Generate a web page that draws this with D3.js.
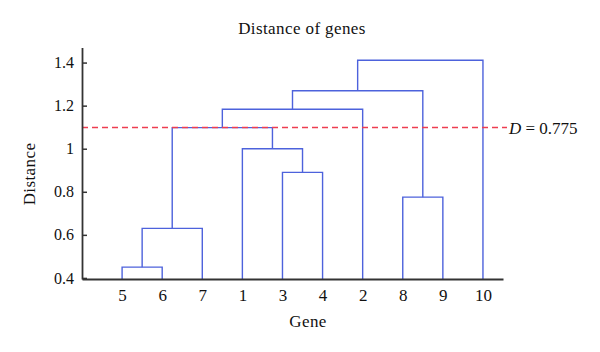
<!DOCTYPE html>
<html>
<head>
<meta charset="utf-8">
<script src="https://cdn.jsdelivr.net/npm/d3@7"></script>
<style>
  body { margin: 0; background: #fff; }
  svg text { font-family: "Liberation Serif", "DejaVu Serif", serif; fill: #111; }
</style>
</head>
<body>
<svg id="chart" width="600" height="352"></svg>
<script>
// gene ids 1..10, merged clusters numbered from 11 (linkage order)
var geneIds = [1, 2, 3, 4, 5, 6, 7, 8, 9, 10];
var mergeLeft = [5, 11, 8, 3, 1, 12, 16, 17, 18];
var mergeRight = [6, 7, 9, 4, 14, 15, 2, 13, 10];
var mergeHeight = [0.45, 0.63, 0.775, 0.89, 1.0, 1.098, 1.183, 1.269, 1.411];
var yTicks = [0.4, 0.6, 0.8, 1.0, 1.2, 1.4];
var cutValue = 1.098;
var cutLabel = '0.775';

var svg = d3.select('#chart');
var nLeaf = geneIds.length;

// build tree nodes
var nodes = {};
geneIds.forEach(function (g) { nodes[g] = { id: g, h: null, children: null }; });
mergeHeight.forEach(function (h, i) {
    nodes[nLeaf + 1 + i] = { id: nLeaf + 1 + i, h: h, children: [nodes[mergeLeft[i]], nodes[mergeRight[i]]] };
});
var root = nodes[nLeaf + mergeHeight.length];

// leaf order from traversal
var order = [];
(function walk(n) {
    if (!n.children) { order.push(n.id); return; }
    n.children.forEach(walk);
})(root);

var x = d3.scaleLinear().domain([0, nLeaf + 0.5]).range([82, 503]);
var y = d3.scaleLinear().domain([0.395, 1.47]).range([279, 47.5]);

// leaf x positions, internal node x = mean of children
function place(n) {
    if (!n.children) { n.px = x(order.indexOf(n.id) + 1); n.py = y(0.395); return; }
    n.children.forEach(place);
    n.px = (n.children[0].px + n.children[1].px) / 2;
    n.py = y(n.h);
}
place(root);

var links = [];
(function collect(n) {
    if (!n.children) return;
    links.push(n);
    n.children.forEach(collect);
})(root);

// dendrogram U shapes
svg.append('g').selectAll('path')
    .data(links)
    .enter().append('path')
    .attr('fill', 'none')
    .attr('stroke', '#4d62dc')
    .attr('stroke-width', 1.4)
    .attr('d', function (n) {
        var a = n.children[0], b = n.children[1];
        return 'M' + a.px + ' ' + a.py + 'V' + n.py + 'H' + b.px + 'V' + b.py;
    });

// cut line
svg.append('line')
    .attr('x1', x(0)).attr('x2', 507)
    .attr('y1', y(cutValue)).attr('y2', y(cutValue))
    .attr('stroke', '#ee3d50')
    .attr('stroke-width', 1.5)
    .attr('stroke-dasharray', '6,4');

var cutText = svg.append('text')
    .attr('x', 509).attr('y', y(cutValue) + 6.5)
    .attr('font-size', 17);
cutText.append('tspan').attr('font-style', 'italic').text('D');
cutText.append('tspan').text(' = ' + cutLabel);

// y axis
var yAxis = svg.append('g')
    .attr('transform', 'translate(' + x(0) + ',0)')
    .call(d3.axisLeft(y).tickValues(yTicks)
        .tickSizeInner(-5).tickSizeOuter(0).tickPadding(8)
        .tickFormat(function (d) { return String(+d.toFixed(1)); }));
yAxis.selectAll('text').attr('font-size', 16).attr('font-family', '"Liberation Serif", serif').attr('fill', '#111');
yAxis.selectAll('line').attr('stroke', '#333').attr('stroke-width', 1.5);
yAxis.select('.domain').attr('stroke', '#333').attr('stroke-width', 1.8);

// x axis
var xAxis = svg.append('g')
    .attr('transform', 'translate(0,' + y(0.395) + ')')
    .call(d3.axisBottom(x).tickValues(d3.range(1, nLeaf + 1))
        .tickSize(0).tickPadding(10)
        .tickFormat(function (d) { return order[d - 1]; }));
xAxis.selectAll('text').attr('font-size', 17).attr('font-family', '"Liberation Serif", serif').attr('fill', '#111');
xAxis.select('.domain').attr('stroke', '#333').attr('stroke-width', 1.8);

// titles
svg.append('text').attr('x', 302).attr('y', 34).attr('text-anchor', 'middle')
    .attr('font-size', 17).attr('letter-spacing', 0.4).text('Distance of genes');
svg.append('text').attr('x', 308).attr('y', 327).attr('text-anchor', 'middle')
    .attr('font-size', 17).attr('letter-spacing', 0.4).text('Gene');
svg.append('text').attr('transform', 'translate(35,174) rotate(-90)').attr('text-anchor', 'middle')
    .attr('font-size', 17).attr('letter-spacing', 0.4).text('Distance');
</script>
</body>
</html>
